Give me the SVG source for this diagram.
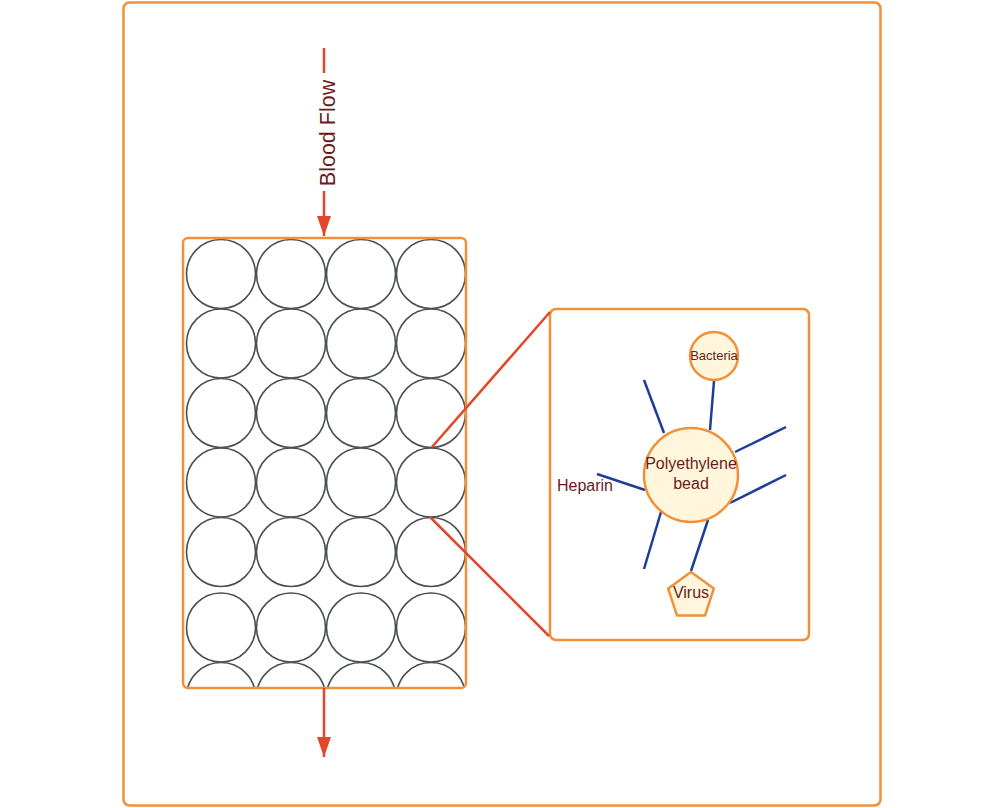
<svg xmlns="http://www.w3.org/2000/svg" width="1004" height="808" viewBox="0 0 1004 808">
<style>
.frame{fill:none;stroke:#f0913a;stroke-width:2.5}
.bead{fill:none;stroke:#4a4f52;stroke-width:1.6}
.red{stroke:#e2462b;stroke-width:2.5;fill:none}
.blue{stroke:#1f3d96;stroke-width:2.5;fill:none}
.cell{fill:#fff6dc;stroke:#f0913a;stroke-width:2.5}
.t{font-family:"Liberation Sans",Arial,sans-serif;fill:#6a1b1b;text-anchor:middle}
</style>
<defs>
<marker id="ah" viewBox="0 0 20 14" refX="20" refY="7" markerWidth="20" markerHeight="14" markerUnits="userSpaceOnUse" orient="auto">
<path d="M0,0 L20,7 L0,14 Z" fill="#e2462b"/>
</marker>
<clipPath id="colclip"><rect x="183" y="238" width="283" height="450" rx="5"/></clipPath>
</defs>
<rect id="outer" x="123.5" y="2.5" width="757" height="803" rx="6" class="frame"/>
<g id="column">
<g clip-path="url(#colclip)">
<g class="bead">
<circle cx="221" cy="274" r="34.5"/><circle cx="291" cy="274" r="34.5"/><circle cx="361" cy="274" r="34.5"/><circle cx="431" cy="274" r="34.5"/>
<circle cx="221" cy="343.5" r="34.5"/><circle cx="291" cy="343.5" r="34.5"/><circle cx="361" cy="343.5" r="34.5"/><circle cx="431" cy="343.5" r="34.5"/>
<circle cx="221" cy="413" r="34.5"/><circle cx="291" cy="413" r="34.5"/><circle cx="361" cy="413" r="34.5"/><circle cx="431" cy="413" r="34.5"/>
<circle cx="221" cy="482.5" r="34.5"/><circle cx="291" cy="482.5" r="34.5"/><circle cx="361" cy="482.5" r="34.5"/><circle cx="431" cy="482.5" r="34.5"/>
<circle cx="221" cy="552" r="34.5"/><circle cx="291" cy="552" r="34.5"/><circle cx="361" cy="552" r="34.5"/><circle cx="431" cy="552" r="34.5"/>
<circle cx="221" cy="627.5" r="34.5"/><circle cx="291" cy="627.5" r="34.5"/><circle cx="361" cy="627.5" r="34.5"/><circle cx="431" cy="627.5" r="34.5"/>
<circle cx="221" cy="697" r="34.5"/><circle cx="291" cy="697" r="34.5"/><circle cx="361" cy="697" r="34.5"/><circle cx="431" cy="697" r="34.5"/>
</g>
</g>
<rect x="183" y="238" width="283" height="450" rx="5" class="frame"/>
</g>
<g id="zoom-box">
<rect x="550" y="309" width="259" height="331" rx="6" class="frame"/>
</g>
<g id="connectors">
<line x1="324" y1="48" x2="324" y2="73" class="red"/>
<line x1="324" y1="191" x2="324" y2="236" class="red" marker-end="url(#ah)"/>
<line x1="324" y1="688" x2="324" y2="757" class="red" marker-end="url(#ah)"/>
<line x1="432" y1="447" x2="550" y2="312" class="red"/>
<line x1="430" y1="517" x2="549" y2="636" class="red"/>
<g class="blue">
<line x1="644" y1="380" x2="664" y2="433"/>
<line x1="714" y1="381" x2="710" y2="430"/>
<line x1="735" y1="452" x2="786" y2="427"/>
<line x1="730" y1="503" x2="786" y2="475"/>
<line x1="597" y1="474" x2="645" y2="490"/>
<line x1="661" y1="512" x2="644" y2="569"/>
<line x1="708" y1="520" x2="691" y2="571"/>
</g>
</g>
<g id="blood-flow-label">
<text class="t" x="0" y="0" font-size="21.5" transform="translate(335,133) rotate(-90)">Blood Flow</text>
</g>
<g id="bacteria">
<circle cx="714" cy="356" r="24" class="cell"/>
<text class="t" x="714" y="360" font-size="13">Bacteria</text>
</g>
<g id="polyethylene-bead">
<circle cx="691" cy="475" r="47" class="cell"/>
<text class="t" x="691" y="469" font-size="16">Polyethylene</text>
<text class="t" x="691" y="489" font-size="16">bead</text>
</g>
<g id="heparin">
<text class="t" x="585" y="491" font-size="16">Heparin</text>
</g>
<g id="virus">
<polygon points="691,572 713.8,588.6 705.1,615.4 676.9,615.4 668.2,588.6" class="cell" stroke-linejoin="round"/>
<text class="t" x="691" y="598" font-size="16">Virus</text>
</g>
</svg>
